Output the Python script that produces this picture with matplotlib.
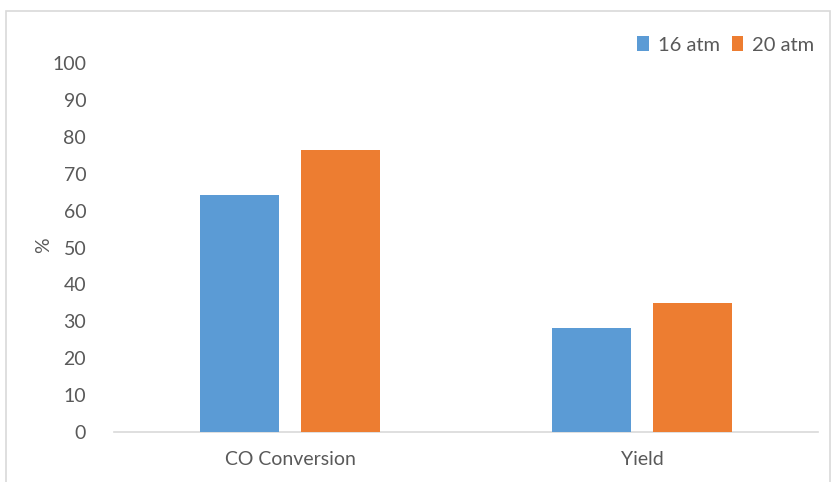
import matplotlib
matplotlib.use("Agg")
import matplotlib.pyplot as plt
from matplotlib.patches import Rectangle

categories = ["CO Conversion", "Yield"]
series_names = ["16 atm", "20 atm"]
values_16atm = [64.3, 28.3]
values_20atm = [76.3, 35.0]
yticks = list(range(0, 101, 10))

COLORS = ["#5B9BD5", "#ED7D31"]
TEXT = "#595959"

plt.rcParams["font.family"] = ["Lato", "DejaVu Sans"]

fig = plt.figure(figsize=(8.32, 4.82), dpi=100)
ax = fig.add_axes([114 / 832, 1 - 432 / 482, (818 - 114) / 832, (432 - 63) / 482])

# light chart-area frame
fig.patches.append(Rectangle((6 / 832, -0.1), 0.99, 1 - 11 / 482 + 0.1,
                             transform=fig.transFigure, fill=False,
                             edgecolor="#d9d9d9", lw=1.2))

x = range(len(categories))
width = 0.225
off = width / 2 + 0.03
for i, (vals, name) in enumerate([(values_16atm, series_names[0]),
                                  (values_20atm, series_names[1])]):
    ax.bar([p + (i * 2 - 1) * off for p in x], vals, width,
           color=COLORS[i], label=name, zorder=3)

ax.set_xlim(-0.5, 1.5)
ax.set_ylim(0, 100)
ax.set_yticks(yticks)
ax.set_xticks(list(x))
ax.set_xticklabels(categories)
ax.tick_params(axis="both", length=0, labelsize=14, colors=TEXT)
ax.tick_params(axis="y", pad=20)
ax.tick_params(axis="x", pad=14)
for s in ("top", "right", "left"):
    ax.spines[s].set_visible(False)
ax.spines["bottom"].set_color("#d9d9d9")
ax.spines["bottom"].set_linewidth(1.2)

fig.text(44 / 832, 1 - 245 / 482, "%", rotation=90, fontsize=14,
         color=TEXT, ha="center", va="center")

fig.legend(loc="center right", bbox_to_anchor=(822 / 832, 1 - 45 / 482),
           ncol=2, frameon=False, fontsize=14.5, labelcolor=TEXT,
           handlelength=0.55, handleheight=0.7, handletextpad=0.45,
           columnspacing=0.6, borderaxespad=0)

fig.savefig("out.png", dpi=100)
